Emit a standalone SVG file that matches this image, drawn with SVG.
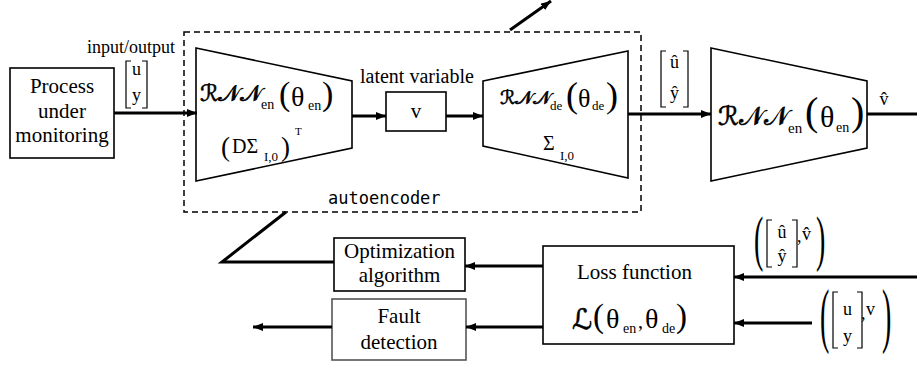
<svg xmlns="http://www.w3.org/2000/svg" width="917" height="369" viewBox="0 0 917 369">
<style>
  .t { font-family: "Liberation Serif", "Times New Roman", serif; fill: #000; }
  .cal { font-family: "DejaVu Serif", "DejaVu Sans", "Noto Sans", serif; fill: #000; stroke: #000; stroke-width: 0.6; }
  .mono { font-family: "DejaVu Sans Mono", "Liberation Mono", monospace; fill: #000; }
  .box { fill: #fff; stroke: #000; stroke-width: 1.6; }
  .trap { fill: #fff; stroke: #000; stroke-width: 1.6; }
  .dash { fill: none; stroke: #000; stroke-width: 1.5; stroke-dasharray: 6 4; }
  .conn { fill: none; stroke: #000; stroke-width: 3; }
  .br { fill: none; stroke: #000; stroke-width: 1.2; }
</style>
<defs>
  <marker id="ah" viewBox="0 0 10 8" refX="10" refY="4" markerWidth="10" markerHeight="8" markerUnits="userSpaceOnUse" orient="auto">
    <path d="M0,0 L10,4 L0,8 Z" fill="#000"/>
  </marker>
</defs>
<rect width="917" height="369" fill="#fff"/>

<g id="autoencoder-frame">
  <rect class="dash" x="184" y="32" width="457" height="180"/>
  <text class="mono" x="328" y="204" font-size="17">autoencoder</text>
</g>

<g id="process">
  <rect class="box" x="10" y="68" width="104" height="90"/>
  <text class="t" x="62" y="93" font-size="21" text-anchor="middle">Process</text>
  <text class="t" x="62" y="118" font-size="21" text-anchor="middle">under</text>
  <text class="t" x="62" y="142" font-size="21" text-anchor="middle">monitoring</text>
</g>

<g id="encoder">
  <polygon class="trap" points="196,48 352,81 352,148 196,181"/>
  <text class="cal" x="200" y="101" font-size="23">ℛ𝒩𝒩</text>
  <text class="t" x="261" y="109" font-size="14">en</text>
  <text class="t" x="279" y="104.5" font-size="34">(</text>
  <text class="t" x="291" y="106" font-size="28">θ</text>
  <text class="t" x="308" y="110" font-size="14">en</text>
  <text class="t" x="322" y="104.5" font-size="34">)</text>
  <text class="t" x="221" y="155.5" font-size="27">(</text>
  <text class="t" x="232" y="153" font-size="20">DΣ</text>
  <text class="t" x="264" y="161" font-size="13">I,0</text>
  <text class="t" x="281" y="155.5" font-size="27">)</text>
  <text class="t" x="295" y="135" font-size="11">T</text>
</g>

<g id="latent">
  <text class="t" x="360" y="83" font-size="20">latent variable</text>
  <rect class="box" x="386" y="92" width="60" height="39"/>
  <text class="t" x="416" y="118" font-size="21" text-anchor="middle">v</text>
</g>

<g id="decoder">
  <polygon class="trap" points="483,81 628,51 628,178 483,146"/>
  <text class="cal" x="500" y="104" font-size="19">ℛ𝒩𝒩</text>
  <text class="t" x="550" y="110" font-size="13">de</text>
  <text class="t" x="566" y="106.5" font-size="36">(</text>
  <text class="t" x="578" y="107" font-size="26">θ</text>
  <text class="t" x="592" y="110" font-size="13">de</text>
  <text class="t" x="606" y="106.5" font-size="36">)</text>
  <text class="t" x="543" y="150" font-size="20">Σ</text>
  <text class="t" x="560" y="160" font-size="13">I,0</text>
</g>

<g id="encoder2">
  <polygon class="trap" points="711,48 867,81 867,148 711,181"/>
  <text class="cal" x="718" y="125" font-size="26">ℛ𝒩𝒩</text>
  <text class="t" x="788" y="133" font-size="15">en</text>
  <text class="t" x="805" y="125" font-size="40">(</text>
  <text class="t" x="820" y="127" font-size="30">θ</text>
  <text class="t" x="836" y="132" font-size="14">en</text>
  <text class="t" x="851" y="125" font-size="40">)</text>
</g>

<g id="optimization">
  <rect class="box" x="334" y="238" width="131" height="53"/>
  <text class="t" x="399.5" y="258" font-size="21" text-anchor="middle">Optimization</text>
  <text class="t" x="399.5" y="282" font-size="21" text-anchor="middle">algorithm</text>
</g>

<g id="fault">
  <rect class="box" x="332" y="299" width="134" height="61" style="stroke:#555"/>
  <text class="t" x="399" y="323" font-size="21" text-anchor="middle">Fault</text>
  <text class="t" x="399" y="349" font-size="21" text-anchor="middle">detection</text>
</g>

<g id="loss">
  <rect class="box" x="543" y="246" width="191" height="98"/>
  <text class="t" x="577" y="279" font-size="21">Loss function</text>
  <text class="cal" x="572" y="329" font-size="28">ℒ</text>
  <text class="t" x="593" y="327" font-size="33">(</text>
  <text class="t" x="606" y="328" font-size="28">θ</text>
  <text class="t" x="623" y="333" font-size="14">en</text>
  <text class="t" x="638" y="328" font-size="20">,</text>
  <text class="t" x="645" y="328" font-size="28">θ</text>
  <text class="t" x="662" y="333" font-size="14">de</text>
  <text class="t" x="676" y="327" font-size="33">)</text>
</g>

<g id="connectors">
  <line class="conn" x1="114" y1="113" x2="197" y2="113" marker-end="url(#ah)"/>
  <line class="conn" x1="352" y1="116" x2="386" y2="116" marker-end="url(#ah)"/>
  <line class="conn" x1="446" y1="116" x2="483" y2="116" marker-end="url(#ah)"/>
  <line class="conn" x1="628" y1="114" x2="711" y2="114" marker-end="url(#ah)"/>
  <line class="conn" x1="867" y1="114" x2="917" y2="114"/>
  <line class="conn" x1="510" y1="30" x2="551" y2="1" marker-end="url(#ah)"/>
  <polyline class="conn" points="334,262 222,262 286,212"/>
  <line class="conn" x1="543" y1="266" x2="465" y2="266" marker-end="url(#ah)"/>
  <line class="conn" x1="543" y1="327" x2="466" y2="327" marker-end="url(#ah)"/>
  <line class="conn" x1="332" y1="327" x2="253" y2="327" marker-end="url(#ah)"/>
  <line class="conn" x1="917" y1="277" x2="734" y2="277" marker-end="url(#ah)"/>
  <line class="conn" x1="812" y1="323" x2="734" y2="323" marker-end="url(#ah)"/>
</g>

<g id="label-input">
  <text class="t" x="87" y="53" font-size="18">input/output</text>
  <polyline class="br" points="131,61 126,61 126,108 131,108"/>
  <polyline class="br" points="142,61 147,61 147,108 142,108"/>
  <text class="t" x="136.5" y="75" font-size="18" text-anchor="middle">u</text>
  <text class="t" x="136.5" y="101" font-size="18" text-anchor="middle">y</text>
</g>

<g id="label-recon">
  <polyline class="br" points="666,51 661,51 661,107 666,107"/>
  <polyline class="br" points="683,51 688,51 688,107 683,107"/>
  <text class="t" x="674.5" y="68" font-size="18" text-anchor="middle">û</text>
  <text class="t" x="674.5" y="99" font-size="18" text-anchor="middle">ŷ</text>
</g>

<g id="label-vhat">
  <text class="t" x="884" y="105" font-size="18" text-anchor="middle">v̂</text>
</g>

<g id="label-recon-pair">
  <text class="t" x="0" y="0" font-size="28" transform="translate(754,259) scale(1,2.22)">(</text>
  <polyline class="br" points="772,220 767,220 767,267 772,267"/>
  <polyline class="br" points="792,220 797,220 797,267 792,267"/>
  <text class="t" x="782" y="238" font-size="18" text-anchor="middle">û</text>
  <text class="t" x="782" y="262" font-size="18" text-anchor="middle">ŷ</text>
  <text class="t" x="797" y="242" font-size="18">,</text>
  <text class="t" x="802" y="240" font-size="18">v̂</text>
  <text class="t" x="0" y="0" font-size="28" transform="translate(816,259) scale(1,2.22)">)</text>
</g>

<g id="label-input-pair">
  <text class="t" x="0" y="0" font-size="28" transform="translate(820,339) scale(1,2.6)">(</text>
  <polyline class="br" points="838,292 833,292 833,348 838,348"/>
  <polyline class="br" points="857,292 862,292 862,348 857,348"/>
  <text class="t" x="847.5" y="315" font-size="18" text-anchor="middle">u</text>
  <text class="t" x="847.5" y="342" font-size="18" text-anchor="middle">y</text>
  <text class="t" x="861" y="319" font-size="18">,</text>
  <text class="t" x="866" y="315" font-size="18">v</text>
  <text class="t" x="0" y="0" font-size="28" transform="translate(882,339) scale(1,2.6)">)</text>
</g>
</svg>
